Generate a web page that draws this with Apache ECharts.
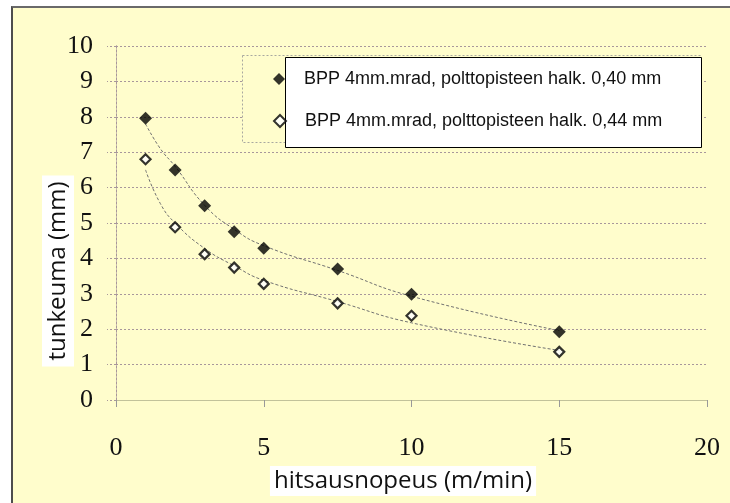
<!DOCTYPE html>
<html>
<head>
<meta charset="utf-8">
<script src="https://cdn.jsdelivr.net/npm/echarts@6/dist/echarts.min.js"></script>
<style>
  html, body { margin: 0; padding: 0; background: #fff; }
  #frame { position: absolute; left: 11px; top: 6px; width: 719px; height: 497px;
           background: #fffdcc; border-left: 2px solid #4d4d4d; border-top: 2px solid #6a6a6a;
           box-sizing: border-box; }
  #chart { position: absolute; left: 0; top: 0; width: 730px; height: 503px; }
</style>
</head>
<body>
<div id="frame"></div>
<div id="chart"></div>
<script>
// hitsausnopeus (m/min)
const speed = [1, 2, 3, 4, 5, 7.5, 10, 15];
// tunkeuma (mm)
const pen040 = [7.96, 6.5, 5.49, 4.75, 4.29, 3.7, 2.99, 1.93];
const pen044 = [6.8, 4.88, 4.12, 3.74, 3.28, 2.73, 2.38, 1.36];

// trend curves
const trendX = [1, 1.5, 2, 3, 4, 5, 7.5, 10, 15];
const trend040 = [7.8, 7.1, 6.6, 5.5, 4.82, 4.36, 3.66, 2.93, 1.96];
const trend044 = [6.5, 5.55, 5.0, 4.28, 3.79, 3.38, 2.78, 2.18, 1.4];

const name040 = 'BPP 4mm.mrad, polttopisteen halk. 0,40 mm';
const name044 = 'BPP 4mm.mrad, polttopisteen halk. 0,44 mm';

const zip = (xs, ys) => xs.map((x, i) => [x, ys[i]]);

const gridCol = '#a8979b';

let myChart = echarts.init(document.getElementById('chart'));

function legendFor(name, top) {
  return {
    data: [name],
    left: 273, top: top, padding: 0,
    icon: 'diamond', itemWidth: 12, itemHeight: 12,
    textStyle: { fontFamily: 'Liberation Sans', fontSize: 18,
                 lineHeight: 18, color: '#111', padding: [0, 0, 0, 14] },
    z: 5
  };
}

const trendLine = { color: '#707070', width: 1, type: [3, 2] };

myChart.setOption({
  animation: false,
  backgroundColor: 'transparent',
  grid: { left: 116, right: 23, top: 46, bottom: 103 },
  xAxis: [{
    type: 'value', min: 0, max: 20, interval: 5,
    axisLine: { lineStyle: { color: gridCol, type: [2, 2] } },
    axisTick: { length: 7, lineStyle: { color: '#999' } },
    axisLabel: { margin: 35, fontFamily: 'Liberation Serif', fontSize: 26, color: '#111' },
    splitLine: { show: false }
  }, {
    type: 'value', position: 'top', min: 0, max: 20,
    axisLine: { show: true, lineStyle: { color: '#c2c29a' } },
    axisTick: { show: false }, axisLabel: { show: false }, splitLine: { show: false }
  }],
  yAxis: [{
    type: 'value', min: 0, max: 10, interval: 1,
    axisLine: { show: true, lineStyle: { color: gridCol, type: [2, 2] } },
    axisTick: { show: true, length: 9, lineStyle: { color: gridCol, type: [2, 2] } },
    axisLabel: { margin: 23, fontFamily: 'Liberation Serif', fontSize: 26, color: '#111' },
    splitLine: { lineStyle: { color: gridCol, type: [2, 2] } }
  }, {
    type: 'value', position: 'right', min: 0, max: 10,
    axisLine: { show: true, lineStyle: { color: gridCol, type: [2, 2] } },
    axisTick: { show: false }, axisLabel: { show: false }, splitLine: { show: false }
  }],
  legend: [legendFor(name040, 70), legendFor(name044, 112)],
  series: [
    { name: 'trend040', type: 'line', smooth: true, showSymbol: false, silent: true,
      data: zip(trendX, trend040), lineStyle: trendLine, z: 2 },
    { name: 'trend044', type: 'line', smooth: true, showSymbol: false, silent: true,
      data: zip(trendX, trend044), lineStyle: trendLine, z: 2 },
    { name: name040, type: 'scatter', symbol: 'diamond', symbolSize: 13,
      data: zip(speed, pen040), itemStyle: { color: '#000' }, z: 3 },
    { name: name044, type: 'scatter', symbol: 'diamond', symbolSize: 10,
      data: zip(speed, pen044), itemStyle: { color: '#fff', borderColor: '#000', borderWidth: 2.2 }, z: 3 }
  ],
  graphic: [
    { type: 'rect', z: 1, shape: { x: 242.5, y: 55.5, width: 458, height: 87 },
      style: { fill: '#fffdcc', stroke: '#a8a8a0', lineWidth: 1, lineDash: [2, 2] } },
    { type: 'rect', z: 4, shape: { x: 285.5, y: 57.5, width: 416, height: 90 },
      style: { fill: '#fff', stroke: '#000', lineWidth: 1 } },
    { type: 'text', z: 6, x: 58, y: 271, rotation: Math.PI / 2,
      style: { text: 'tunkeuma (mm)', font: '24px "Open Sans", sans-serif', fill: '#111',
               align: 'center', verticalAlign: 'middle', backgroundColor: '#fff', padding: [4, 6] } },
    { type: 'text', z: 6, x: 403, y: 481,
      style: { text: 'hitsausnopeus (m/min)', font: '24px "Open Sans", sans-serif', fill: '#111',
               align: 'center', verticalAlign: 'middle', backgroundColor: '#fff', padding: [3, 4] } }
  ]
});
</script>
</body>
</html>
